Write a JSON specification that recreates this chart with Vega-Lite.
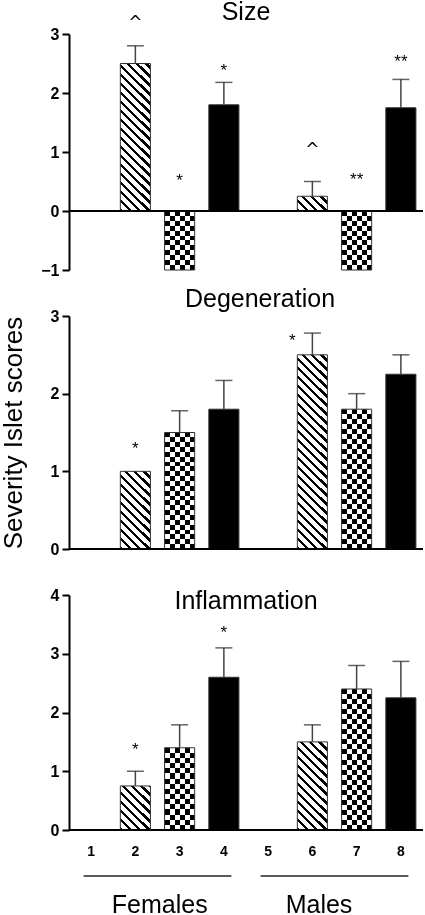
{
"$schema": "https://vega.github.io/schema/vega-lite/v6.json",
"background": "white",
"padding": {"left": 0, "top": 0, "right": 0, "bottom": 0},
"spacing": 46,
"bounds": "flush",
"datasets": {
"bars": [
{"panel":"Size","id":1,"value":0,"upper":null,"note":null,"notePos":null},
{"panel":"Size","id":2,"value":2.5,"upper":2.8,"note":"^","notePos":3.11},
{"panel":"Size","id":3,"value":-1,"upper":null,"note":"*","notePos":0.43},
{"panel":"Size","id":4,"value":1.8,"upper":2.18,"note":"*","notePos":2.28},
{"panel":"Size","id":5,"value":0,"upper":null,"note":null,"notePos":null},
{"panel":"Size","id":6,"value":0.25,"upper":0.5,"note":"^","notePos":0.95},
{"panel":"Size","id":7,"value":-1,"upper":null,"note":"**","notePos":0.44},
{"panel":"Size","id":8,"value":1.75,"upper":2.23,"note":"**","notePos":2.44},
{"panel":"Degeneration","id":1,"value":0,"upper":null,"note":null,"notePos":null},
{"panel":"Degeneration","id":2,"value":1.0,"upper":null,"note":"*","notePos":1.22},
{"panel":"Degeneration","id":3,"value":1.5,"upper":1.78,"note":null,"notePos":null},
{"panel":"Degeneration","id":4,"value":1.8,"upper":2.17,"note":null,"notePos":null},
{"panel":"Degeneration","id":5,"value":0,"upper":null,"note":null,"notePos":null},
{"panel":"Degeneration","id":6,"value":2.5,"upper":2.78,"note":"*","notePos":2.61},
{"panel":"Degeneration","id":7,"value":1.8,"upper":2.0,"note":null,"notePos":null},
{"panel":"Degeneration","id":8,"value":2.25,"upper":2.5,"note":null,"notePos":null},
{"panel":"Inflammation","id":1,"value":0,"upper":null,"note":null,"notePos":null},
{"panel":"Inflammation","id":2,"value":0.75,"upper":1.0,"note":"*","notePos":1.27},
{"panel":"Inflammation","id":3,"value":1.4,"upper":1.79,"note":null,"notePos":null},
{"panel":"Inflammation","id":4,"value":2.6,"upper":3.1,"note":"*","notePos":3.26},
{"panel":"Inflammation","id":5,"value":0,"upper":null,"note":null,"notePos":null},
{"panel":"Inflammation","id":6,"value":1.5,"upper":1.79,"note":null,"notePos":null},
{"panel":"Inflammation","id":7,"value":2.4,"upper":2.8,"note":null,"notePos":null},
{"panel":"Inflammation","id":8,"value":2.25,"upper":2.87,"note":null,"notePos":null}
],
"groups": [
{"sex":"Females","start":0.33,"end":3.67,"mid":2.05},
{"sex":"Males","start":4.33,"end":7.67,"mid":5.65}
]
},
"vconcat": [
{
"width": 354, "height": 236,
"title": {"text": "Size", "offset": -31.5, "baseline": "alphabetic", "frame": "group", "anchor": "middle"},
"layer": [
{
"data": {"name": "bars"},
"transform": [{"filter": "datum.panel == 'Size'"}],
"encoding": {
"x": {"field": "id", "type": "ordinal", "scale": {"paddingInner": 0.32, "paddingOuter": 0.16}, "axis": null},
"y": {"field": "value", "type": "quantitative", "title": null, "scale": {"domain": [-1, 3], "nice": false}, "axis": {"values": [-1, 0, 1, 2, 3], "format": "d", "domain": true}}
},
"layer": [
{"transform": [{"filter": "datum.id == 2"}], "mark": {"type": "bar", "fill": {"gradient": "linear", "x1": 0, "y1": 1, "x2": 0.2383, "y2": -0.1719, "stops": [
{"offset":0,"color":"#000"},{"offset":0.02,"color":"#000"},{"offset":0.02,"color":"#fff"},{"offset":0.05,"color":"#fff"},
{"offset":0.05,"color":"#000"},{"offset":0.07,"color":"#000"},{"offset":0.07,"color":"#fff"},{"offset":0.1,"color":"#fff"},
{"offset":0.1,"color":"#000"},{"offset":0.12,"color":"#000"},{"offset":0.12,"color":"#fff"},{"offset":0.15,"color":"#fff"},
{"offset":0.15,"color":"#000"},{"offset":0.17,"color":"#000"},{"offset":0.17,"color":"#fff"},{"offset":0.2,"color":"#fff"},
{"offset":0.2,"color":"#000"},{"offset":0.22,"color":"#000"},{"offset":0.22,"color":"#fff"},{"offset":0.25,"color":"#fff"},
{"offset":0.25,"color":"#000"},{"offset":0.27,"color":"#000"},{"offset":0.27,"color":"#fff"},{"offset":0.3,"color":"#fff"},
{"offset":0.3,"color":"#000"},{"offset":0.32,"color":"#000"},{"offset":0.32,"color":"#fff"},{"offset":0.35,"color":"#fff"},
{"offset":0.35,"color":"#000"},{"offset":0.37,"color":"#000"},{"offset":0.37,"color":"#fff"},{"offset":0.4,"color":"#fff"},
{"offset":0.4,"color":"#000"},{"offset":0.42,"color":"#000"},{"offset":0.42,"color":"#fff"},{"offset":0.45,"color":"#fff"},
{"offset":0.45,"color":"#000"},{"offset":0.47,"color":"#000"},{"offset":0.47,"color":"#fff"},{"offset":0.5,"color":"#fff"},
{"offset":0.5,"color":"#000"},{"offset":0.52,"color":"#000"},{"offset":0.52,"color":"#fff"},{"offset":0.55,"color":"#fff"},
{"offset":0.55,"color":"#000"},{"offset":0.57,"color":"#000"},{"offset":0.57,"color":"#fff"},{"offset":0.6,"color":"#fff"},
{"offset":0.6,"color":"#000"},{"offset":0.62,"color":"#000"},{"offset":0.62,"color":"#fff"},{"offset":0.65,"color":"#fff"},
{"offset":0.65,"color":"#000"},{"offset":0.67,"color":"#000"},{"offset":0.67,"color":"#fff"},{"offset":0.7,"color":"#fff"},
{"offset":0.7,"color":"#000"},{"offset":0.72,"color":"#000"},{"offset":0.72,"color":"#fff"},{"offset":0.75,"color":"#fff"},
{"offset":0.75,"color":"#000"},{"offset":0.77,"color":"#000"},{"offset":0.77,"color":"#fff"},{"offset":0.8,"color":"#fff"},
{"offset":0.8,"color":"#000"},{"offset":0.82,"color":"#000"},{"offset":0.82,"color":"#fff"},{"offset":0.85,"color":"#fff"},
{"offset":0.85,"color":"#000"},{"offset":0.87,"color":"#000"},{"offset":0.87,"color":"#fff"},{"offset":0.9,"color":"#fff"},
{"offset":0.9,"color":"#000"},{"offset":0.92,"color":"#000"},{"offset":0.92,"color":"#fff"},{"offset":0.95,"color":"#fff"},
{"offset":0.95,"color":"#000"},{"offset":0.97,"color":"#000"},{"offset":0.97,"color":"#fff"},{"offset":1,"color":"#fff"}
]}}},
{"transform": [{"filter": "datum.id == 6"}], "mark": {"type": "bar", "fill": {"gradient": "linear", "x1": 0, "y1": 1, "x2": 1.208, "y2": 0.4061, "stops": [
{"offset":0,"color":"#000"},{"offset":0.08,"color":"#000"},{"offset":0.08,"color":"#fff"},{"offset":0.2,"color":"#fff"},
{"offset":0.2,"color":"#000"},{"offset":0.28,"color":"#000"},{"offset":0.28,"color":"#fff"},{"offset":0.4,"color":"#fff"},
{"offset":0.4,"color":"#000"},{"offset":0.48,"color":"#000"},{"offset":0.48,"color":"#fff"},{"offset":0.6,"color":"#fff"},
{"offset":0.6,"color":"#000"},{"offset":0.68,"color":"#000"},{"offset":0.68,"color":"#fff"},{"offset":0.8,"color":"#fff"},
{"offset":0.8,"color":"#000"},{"offset":0.88,"color":"#000"},{"offset":0.88,"color":"#fff"},{"offset":1,"color":"#fff"}
]}}},
{"transform": [{"filter": "datum.id == 3 || datum.id == 7"}], "mark": {"type": "bar", "fill": {"gradient": "linear", "x1": 0, "y1": 0, "x2": 1, "y2": 0, "stops": [
{"offset":0,"color":"#000"},{"offset":0.1667,"color":"#000"},{"offset":0.1667,"color":"#fff"},{"offset":0.3333,"color":"#fff"},
{"offset":0.3333,"color":"#000"},{"offset":0.5,"color":"#000"},{"offset":0.5,"color":"#fff"},{"offset":0.6667,"color":"#fff"},
{"offset":0.6667,"color":"#000"},{"offset":0.8333,"color":"#000"},{"offset":0.8333,"color":"#fff"},{"offset":1,"color":"#fff"}
]}}},
{"transform": [{"filter": "datum.id == 3 || datum.id == 7"}], "mark": {"type": "bar", "blend": "difference", "fill": {"gradient": "linear", "x1": 0, "y1": 0, "x2": 0, "y2": 1, "stops": [
{"offset":0,"color":"#000"},{"offset":0.0833,"color":"#000"},{"offset":0.0833,"color":"#fff"},{"offset":0.1667,"color":"#fff"},
{"offset":0.1667,"color":"#000"},{"offset":0.25,"color":"#000"},{"offset":0.25,"color":"#fff"},{"offset":0.3333,"color":"#fff"},
{"offset":0.3333,"color":"#000"},{"offset":0.4167,"color":"#000"},{"offset":0.4167,"color":"#fff"},{"offset":0.5,"color":"#fff"},
{"offset":0.5,"color":"#000"},{"offset":0.5833,"color":"#000"},{"offset":0.5833,"color":"#fff"},{"offset":0.6667,"color":"#fff"},
{"offset":0.6667,"color":"#000"},{"offset":0.75,"color":"#000"},{"offset":0.75,"color":"#fff"},{"offset":0.8333,"color":"#fff"},
{"offset":0.8333,"color":"#000"},{"offset":0.9167,"color":"#000"},{"offset":0.9167,"color":"#fff"},{"offset":1,"color":"#fff"}
]}}},
{"transform": [{"filter": "datum.id == 4 || datum.id == 8"}], "mark": {"type": "bar", "fill": "#000"}},
{"mark": {"type": "bar", "filled": false, "stroke": "#333", "strokeWidth": 1}}
]
},
{
"data": {"name": "bars"},
"transform": [{"filter": "datum.panel == 'Size' && datum.id == 1"}],
"mark": {"type": "rule", "color": "#000", "strokeWidth": 2},
"encoding": {"y": {"datum": 0, "type": "quantitative", "title": null, "scale": {"domain": [-1, 3], "nice": false}}}
},
{
"data": {"name": "bars"},
"transform": [{"filter": "datum.panel == 'Size'"}],
"encoding": {"x": {"field": "id", "type": "ordinal", "scale": {"paddingInner": 0.32, "paddingOuter": 0.16}, "axis": null}},
"layer": [
{"transform": [{"filter": "datum.upper != null"}], "mark": {"type": "rule", "color": "#444", "strokeWidth": 1.5},
 "encoding": {"y": {"field": "value", "type": "quantitative", "title": null, "scale": {"domain": [-1, 3], "nice": false}}, "y2": {"field": "upper"}}},
{"transform": [{"filter": "datum.upper != null"}], "mark": {"type": "tick", "color": "#222", "size": 17, "thickness": 1.5},
 "encoding": {"y": {"field": "upper", "type": "quantitative", "title": null, "scale": {"domain": [-1, 3], "nice": false}}}},
{"transform": [{"filter": "datum.note != null && datum.note != '^'"}], "mark": {"type": "text", "fontSize": 17, "baseline": "alphabetic", "color": "#000"},
 "encoding": {"y": {"field": "notePos", "type": "quantitative", "title": null, "scale": {"domain": [-1, 3], "nice": false}}, "text": {"field": "note"}}},
{"transform": [{"filter": "datum.note == '^'"}], "mark": {"type": "text", "font": "DejaVu Sans", "fontSize": 17, "baseline": "alphabetic", "color": "#000"},
 "encoding": {"y": {"field": "notePos", "type": "quantitative", "title": null, "scale": {"domain": [-1, 3], "nice": false}}, "text": {"field": "note"}}}
]
}
]
},
{
"width": 354, "height": 233,
"title": {"text": "Degeneration", "offset": -23.5, "dx": 14, "baseline": "alphabetic", "frame": "group", "anchor": "middle"},
"layer": [
{
"data": {"name": "bars"},
"transform": [{"filter": "datum.panel == 'Degeneration'"}],
"encoding": {
"x": {"field": "id", "type": "ordinal", "scale": {"paddingInner": 0.32, "paddingOuter": 0.16}, "axis": null},
"y": {"field": "value", "type": "quantitative", "title": "Severity Islet scores", "scale": {"domain": [0, 3], "nice": false}, "axis": {"values": [0, 1, 2, 3], "format": "d", "domain": true}}
},
"layer": [
{"transform": [{"filter": "datum.id == 2"}], "mark": {"type": "bar", "fill": {"gradient": "linear", "x1": 0, "y1": 1, "x2": 0.4674, "y2": -0.21, "stops": [
{"offset":0,"color":"#000"},{"offset":0.0333,"color":"#000"},{"offset":0.0333,"color":"#fff"},{"offset":0.0833,"color":"#fff"},
{"offset":0.0833,"color":"#000"},{"offset":0.1167,"color":"#000"},{"offset":0.1167,"color":"#fff"},{"offset":0.1667,"color":"#fff"},
{"offset":0.1667,"color":"#000"},{"offset":0.2,"color":"#000"},{"offset":0.2,"color":"#fff"},{"offset":0.25,"color":"#fff"},
{"offset":0.25,"color":"#000"},{"offset":0.2833,"color":"#000"},{"offset":0.2833,"color":"#fff"},{"offset":0.3333,"color":"#fff"},
{"offset":0.3333,"color":"#000"},{"offset":0.3667,"color":"#000"},{"offset":0.3667,"color":"#fff"},{"offset":0.4167,"color":"#fff"},
{"offset":0.4167,"color":"#000"},{"offset":0.45,"color":"#000"},{"offset":0.45,"color":"#fff"},{"offset":0.5,"color":"#fff"},
{"offset":0.5,"color":"#000"},{"offset":0.5333,"color":"#000"},{"offset":0.5333,"color":"#fff"},{"offset":0.5833,"color":"#fff"},
{"offset":0.5833,"color":"#000"},{"offset":0.6167,"color":"#000"},{"offset":0.6167,"color":"#fff"},{"offset":0.6667,"color":"#fff"},
{"offset":0.6667,"color":"#000"},{"offset":0.7,"color":"#000"},{"offset":0.7,"color":"#fff"},{"offset":0.75,"color":"#fff"},
{"offset":0.75,"color":"#000"},{"offset":0.7833,"color":"#000"},{"offset":0.7833,"color":"#fff"},{"offset":0.8333,"color":"#fff"},
{"offset":0.8333,"color":"#000"},{"offset":0.8667,"color":"#000"},{"offset":0.8667,"color":"#fff"},{"offset":0.9167,"color":"#fff"},
{"offset":0.9167,"color":"#000"},{"offset":0.95,"color":"#000"},{"offset":0.95,"color":"#fff"},{"offset":1,"color":"#fff"}
]}}},
{"transform": [{"filter": "datum.id == 6"}], "mark": {"type": "bar", "fill": {"gradient": "linear", "x1": 0, "y1": 1, "x2": 0.1749, "y2": -0.1318, "stops": [
{"offset":0,"color":"#000"},{"offset":0.016,"color":"#000"},{"offset":0.016,"color":"#fff"},{"offset":0.04,"color":"#fff"},
{"offset":0.04,"color":"#000"},{"offset":0.056,"color":"#000"},{"offset":0.056,"color":"#fff"},{"offset":0.08,"color":"#fff"},
{"offset":0.08,"color":"#000"},{"offset":0.096,"color":"#000"},{"offset":0.096,"color":"#fff"},{"offset":0.12,"color":"#fff"},
{"offset":0.12,"color":"#000"},{"offset":0.136,"color":"#000"},{"offset":0.136,"color":"#fff"},{"offset":0.16,"color":"#fff"},
{"offset":0.16,"color":"#000"},{"offset":0.176,"color":"#000"},{"offset":0.176,"color":"#fff"},{"offset":0.2,"color":"#fff"},
{"offset":0.2,"color":"#000"},{"offset":0.216,"color":"#000"},{"offset":0.216,"color":"#fff"},{"offset":0.24,"color":"#fff"},
{"offset":0.24,"color":"#000"},{"offset":0.256,"color":"#000"},{"offset":0.256,"color":"#fff"},{"offset":0.28,"color":"#fff"},
{"offset":0.28,"color":"#000"},{"offset":0.296,"color":"#000"},{"offset":0.296,"color":"#fff"},{"offset":0.32,"color":"#fff"},
{"offset":0.32,"color":"#000"},{"offset":0.336,"color":"#000"},{"offset":0.336,"color":"#fff"},{"offset":0.36,"color":"#fff"},
{"offset":0.36,"color":"#000"},{"offset":0.376,"color":"#000"},{"offset":0.376,"color":"#fff"},{"offset":0.4,"color":"#fff"},
{"offset":0.4,"color":"#000"},{"offset":0.416,"color":"#000"},{"offset":0.416,"color":"#fff"},{"offset":0.44,"color":"#fff"},
{"offset":0.44,"color":"#000"},{"offset":0.456,"color":"#000"},{"offset":0.456,"color":"#fff"},{"offset":0.48,"color":"#fff"},
{"offset":0.48,"color":"#000"},{"offset":0.496,"color":"#000"},{"offset":0.496,"color":"#fff"},{"offset":0.52,"color":"#fff"},
{"offset":0.52,"color":"#000"},{"offset":0.536,"color":"#000"},{"offset":0.536,"color":"#fff"},{"offset":0.56,"color":"#fff"},
{"offset":0.56,"color":"#000"},{"offset":0.576,"color":"#000"},{"offset":0.576,"color":"#fff"},{"offset":0.6,"color":"#fff"},
{"offset":0.6,"color":"#000"},{"offset":0.616,"color":"#000"},{"offset":0.616,"color":"#fff"},{"offset":0.64,"color":"#fff"},
{"offset":0.64,"color":"#000"},{"offset":0.656,"color":"#000"},{"offset":0.656,"color":"#fff"},{"offset":0.68,"color":"#fff"},
{"offset":0.68,"color":"#000"},{"offset":0.696,"color":"#000"},{"offset":0.696,"color":"#fff"},{"offset":0.72,"color":"#fff"},
{"offset":0.72,"color":"#000"},{"offset":0.736,"color":"#000"},{"offset":0.736,"color":"#fff"},{"offset":0.76,"color":"#fff"},
{"offset":0.76,"color":"#000"},{"offset":0.776,"color":"#000"},{"offset":0.776,"color":"#fff"},{"offset":0.8,"color":"#fff"},
{"offset":0.8,"color":"#000"},{"offset":0.816,"color":"#000"},{"offset":0.816,"color":"#fff"},{"offset":0.84,"color":"#fff"},
{"offset":0.84,"color":"#000"},{"offset":0.856,"color":"#000"},{"offset":0.856,"color":"#fff"},{"offset":0.88,"color":"#fff"},
{"offset":0.88,"color":"#000"},{"offset":0.896,"color":"#000"},{"offset":0.896,"color":"#fff"},{"offset":0.92,"color":"#fff"},
{"offset":0.92,"color":"#000"},{"offset":0.936,"color":"#000"},{"offset":0.936,"color":"#fff"},{"offset":0.96,"color":"#fff"},
{"offset":0.96,"color":"#000"},{"offset":0.976,"color":"#000"},{"offset":0.976,"color":"#fff"},{"offset":1,"color":"#fff"}
]}}},
{"transform": [{"filter": "datum.id == 3 || datum.id == 7"}], "mark": {"type": "bar", "fill": {"gradient": "linear", "x1": 0, "y1": 0, "x2": 1, "y2": 0, "stops": [
{"offset":0,"color":"#000"},{"offset":0.1667,"color":"#000"},{"offset":0.1667,"color":"#fff"},{"offset":0.3333,"color":"#fff"},
{"offset":0.3333,"color":"#000"},{"offset":0.5,"color":"#000"},{"offset":0.5,"color":"#fff"},{"offset":0.6667,"color":"#fff"},
{"offset":0.6667,"color":"#000"},{"offset":0.8333,"color":"#000"},{"offset":0.8333,"color":"#fff"},{"offset":1,"color":"#fff"}
]}}},
{"transform": [{"filter": "datum.id == 3"}], "mark": {"type": "bar", "blend": "difference", "fill": {"gradient": "linear", "x1": 0, "y1": 0, "x2": 0, "y2": 1, "stops": [
{"offset":0,"color":"#000"},{"offset":0.0417,"color":"#000"},{"offset":0.0417,"color":"#fff"},{"offset":0.0833,"color":"#fff"},
{"offset":0.0833,"color":"#000"},{"offset":0.125,"color":"#000"},{"offset":0.125,"color":"#fff"},{"offset":0.1667,"color":"#fff"},
{"offset":0.1667,"color":"#000"},{"offset":0.2083,"color":"#000"},{"offset":0.2083,"color":"#fff"},{"offset":0.25,"color":"#fff"},
{"offset":0.25,"color":"#000"},{"offset":0.2917,"color":"#000"},{"offset":0.2917,"color":"#fff"},{"offset":0.3333,"color":"#fff"},
{"offset":0.3333,"color":"#000"},{"offset":0.375,"color":"#000"},{"offset":0.375,"color":"#fff"},{"offset":0.4167,"color":"#fff"},
{"offset":0.4167,"color":"#000"},{"offset":0.4583,"color":"#000"},{"offset":0.4583,"color":"#fff"},{"offset":0.5,"color":"#fff"},
{"offset":0.5,"color":"#000"},{"offset":0.5417,"color":"#000"},{"offset":0.5417,"color":"#fff"},{"offset":0.5833,"color":"#fff"},
{"offset":0.5833,"color":"#000"},{"offset":0.625,"color":"#000"},{"offset":0.625,"color":"#fff"},{"offset":0.6667,"color":"#fff"},
{"offset":0.6667,"color":"#000"},{"offset":0.7083,"color":"#000"},{"offset":0.7083,"color":"#fff"},{"offset":0.75,"color":"#fff"},
{"offset":0.75,"color":"#000"},{"offset":0.7917,"color":"#000"},{"offset":0.7917,"color":"#fff"},{"offset":0.8333,"color":"#fff"},
{"offset":0.8333,"color":"#000"},{"offset":0.875,"color":"#000"},{"offset":0.875,"color":"#fff"},{"offset":0.9167,"color":"#fff"},
{"offset":0.9167,"color":"#000"},{"offset":0.9583,"color":"#000"},{"offset":0.9583,"color":"#fff"},{"offset":1,"color":"#fff"}
]}}},
{"transform": [{"filter": "datum.id == 7"}], "mark": {"type": "bar", "blend": "difference", "fill": {"gradient": "linear", "x1": 0, "y1": 0, "x2": 0, "y2": 1, "stops": [
{"offset":0,"color":"#000"},{"offset":0.0357,"color":"#000"},{"offset":0.0357,"color":"#fff"},{"offset":0.0714,"color":"#fff"},
{"offset":0.0714,"color":"#000"},{"offset":0.1071,"color":"#000"},{"offset":0.1071,"color":"#fff"},{"offset":0.1429,"color":"#fff"},
{"offset":0.1429,"color":"#000"},{"offset":0.1786,"color":"#000"},{"offset":0.1786,"color":"#fff"},{"offset":0.2143,"color":"#fff"},
{"offset":0.2143,"color":"#000"},{"offset":0.25,"color":"#000"},{"offset":0.25,"color":"#fff"},{"offset":0.2857,"color":"#fff"},
{"offset":0.2857,"color":"#000"},{"offset":0.3214,"color":"#000"},{"offset":0.3214,"color":"#fff"},{"offset":0.3571,"color":"#fff"},
{"offset":0.3571,"color":"#000"},{"offset":0.3929,"color":"#000"},{"offset":0.3929,"color":"#fff"},{"offset":0.4286,"color":"#fff"},
{"offset":0.4286,"color":"#000"},{"offset":0.4643,"color":"#000"},{"offset":0.4643,"color":"#fff"},{"offset":0.5,"color":"#fff"},
{"offset":0.5,"color":"#000"},{"offset":0.5357,"color":"#000"},{"offset":0.5357,"color":"#fff"},{"offset":0.5714,"color":"#fff"},
{"offset":0.5714,"color":"#000"},{"offset":0.6071,"color":"#000"},{"offset":0.6071,"color":"#fff"},{"offset":0.6429,"color":"#fff"},
{"offset":0.6429,"color":"#000"},{"offset":0.6786,"color":"#000"},{"offset":0.6786,"color":"#fff"},{"offset":0.7143,"color":"#fff"},
{"offset":0.7143,"color":"#000"},{"offset":0.75,"color":"#000"},{"offset":0.75,"color":"#fff"},{"offset":0.7857,"color":"#fff"},
{"offset":0.7857,"color":"#000"},{"offset":0.8214,"color":"#000"},{"offset":0.8214,"color":"#fff"},{"offset":0.8571,"color":"#fff"},
{"offset":0.8571,"color":"#000"},{"offset":0.8929,"color":"#000"},{"offset":0.8929,"color":"#fff"},{"offset":0.9286,"color":"#fff"},
{"offset":0.9286,"color":"#000"},{"offset":0.9643,"color":"#000"},{"offset":0.9643,"color":"#fff"},{"offset":1,"color":"#fff"}
]}}},
{"transform": [{"filter": "datum.id == 4 || datum.id == 8"}], "mark": {"type": "bar", "fill": "#000"}},
{"mark": {"type": "bar", "filled": false, "stroke": "#333", "strokeWidth": 1}}
]
},
{
"data": {"name": "bars"},
"transform": [{"filter": "datum.panel == 'Degeneration' && datum.id == 1"}],
"mark": {"type": "rule", "color": "#000", "strokeWidth": 2},
"encoding": {"y": {"datum": 0, "type": "quantitative", "title": "Severity Islet scores", "scale": {"domain": [0, 3], "nice": false}}}
},
{
"data": {"name": "bars"},
"transform": [{"filter": "datum.panel == 'Degeneration'"}],
"encoding": {"x": {"field": "id", "type": "ordinal", "scale": {"paddingInner": 0.32, "paddingOuter": 0.16}, "axis": null}},
"layer": [
{"transform": [{"filter": "datum.upper != null"}], "mark": {"type": "rule", "color": "#444", "strokeWidth": 1.5},
 "encoding": {"y": {"field": "value", "type": "quantitative", "title": "Severity Islet scores", "scale": {"domain": [0, 3], "nice": false}}, "y2": {"field": "upper"}}},
{"transform": [{"filter": "datum.upper != null"}], "mark": {"type": "tick", "color": "#222", "size": 17, "thickness": 1.5},
 "encoding": {"y": {"field": "upper", "type": "quantitative", "title": "Severity Islet scores", "scale": {"domain": [0, 3], "nice": false}}}},
{"transform": [{"filter": "datum.note != null && datum.id != 6"}], "mark": {"type": "text", "fontSize": 17, "baseline": "alphabetic", "color": "#000"},
 "encoding": {"y": {"field": "notePos", "type": "quantitative", "title": "Severity Islet scores", "scale": {"domain": [0, 3], "nice": false}}, "text": {"field": "note"}}},
{"transform": [{"filter": "datum.note != null && datum.id == 6"}], "mark": {"type": "text", "fontSize": 17, "dx": -20, "baseline": "alphabetic", "color": "#000"},
 "encoding": {"y": {"field": "notePos", "type": "quantitative", "title": "Severity Islet scores", "scale": {"domain": [0, 3], "nice": false}}, "text": {"field": "note"}}}
]
}
]
},
{
"width": 354, "height": 235,
"title": {"text": "Inflammation", "offset": -47, "baseline": "alphabetic", "frame": "group", "anchor": "middle"},
"layer": [
{
"data": {"name": "bars"},
"transform": [{"filter": "datum.panel == 'Inflammation'"}],
"encoding": {
"x": {"field": "id", "type": "ordinal", "title": null, "scale": {"paddingInner": 0.32, "paddingOuter": 0.16}},
"y": {"field": "value", "type": "quantitative", "title": null, "scale": {"domain": [0, 4], "nice": false}, "axis": {"values": [0, 1, 2, 3, 4], "format": "d", "domain": true}}
},
"layer": [
{"transform": [{"filter": "datum.id == 2"}], "mark": {"type": "bar", "fill": {"gradient": "linear", "x1": 0, "y1": 1, "x2": 0.8552, "y2": -0.2561, "stops": [
{"offset":0,"color":"#000"},{"offset":0.0444,"color":"#000"},{"offset":0.0444,"color":"#fff"},{"offset":0.1111,"color":"#fff"},
{"offset":0.1111,"color":"#000"},{"offset":0.1556,"color":"#000"},{"offset":0.1556,"color":"#fff"},{"offset":0.2222,"color":"#fff"},
{"offset":0.2222,"color":"#000"},{"offset":0.2667,"color":"#000"},{"offset":0.2667,"color":"#fff"},{"offset":0.3333,"color":"#fff"},
{"offset":0.3333,"color":"#000"},{"offset":0.3778,"color":"#000"},{"offset":0.3778,"color":"#fff"},{"offset":0.4444,"color":"#fff"},
{"offset":0.4444,"color":"#000"},{"offset":0.4889,"color":"#000"},{"offset":0.4889,"color":"#fff"},{"offset":0.5556,"color":"#fff"},
{"offset":0.5556,"color":"#000"},{"offset":0.6,"color":"#000"},{"offset":0.6,"color":"#fff"},{"offset":0.6667,"color":"#fff"},
{"offset":0.6667,"color":"#000"},{"offset":0.7111,"color":"#000"},{"offset":0.7111,"color":"#fff"},{"offset":0.7778,"color":"#fff"},
{"offset":0.7778,"color":"#000"},{"offset":0.8222,"color":"#000"},{"offset":0.8222,"color":"#fff"},{"offset":0.8889,"color":"#fff"},
{"offset":0.8889,"color":"#000"},{"offset":0.9333,"color":"#000"},{"offset":0.9333,"color":"#fff"},{"offset":1,"color":"#fff"}
]}}},
{"transform": [{"filter": "datum.id == 6"}], "mark": {"type": "bar", "fill": {"gradient": "linear", "x1": 0, "y1": 1, "x2": 0.4362, "y2": -0.2813, "stops": [
{"offset":0,"color":"#000"},{"offset":0.0286,"color":"#000"},{"offset":0.0286,"color":"#fff"},{"offset":0.0714,"color":"#fff"},
{"offset":0.0714,"color":"#000"},{"offset":0.1,"color":"#000"},{"offset":0.1,"color":"#fff"},{"offset":0.1429,"color":"#fff"},
{"offset":0.1429,"color":"#000"},{"offset":0.1714,"color":"#000"},{"offset":0.1714,"color":"#fff"},{"offset":0.2143,"color":"#fff"},
{"offset":0.2143,"color":"#000"},{"offset":0.2429,"color":"#000"},{"offset":0.2429,"color":"#fff"},{"offset":0.2857,"color":"#fff"},
{"offset":0.2857,"color":"#000"},{"offset":0.3143,"color":"#000"},{"offset":0.3143,"color":"#fff"},{"offset":0.3571,"color":"#fff"},
{"offset":0.3571,"color":"#000"},{"offset":0.3857,"color":"#000"},{"offset":0.3857,"color":"#fff"},{"offset":0.4286,"color":"#fff"},
{"offset":0.4286,"color":"#000"},{"offset":0.4571,"color":"#000"},{"offset":0.4571,"color":"#fff"},{"offset":0.5,"color":"#fff"},
{"offset":0.5,"color":"#000"},{"offset":0.5286,"color":"#000"},{"offset":0.5286,"color":"#fff"},{"offset":0.5714,"color":"#fff"},
{"offset":0.5714,"color":"#000"},{"offset":0.6,"color":"#000"},{"offset":0.6,"color":"#fff"},{"offset":0.6429,"color":"#fff"},
{"offset":0.6429,"color":"#000"},{"offset":0.6714,"color":"#000"},{"offset":0.6714,"color":"#fff"},{"offset":0.7143,"color":"#fff"},
{"offset":0.7143,"color":"#000"},{"offset":0.7429,"color":"#000"},{"offset":0.7429,"color":"#fff"},{"offset":0.7857,"color":"#fff"},
{"offset":0.7857,"color":"#000"},{"offset":0.8143,"color":"#000"},{"offset":0.8143,"color":"#fff"},{"offset":0.8571,"color":"#fff"},
{"offset":0.8571,"color":"#000"},{"offset":0.8857,"color":"#000"},{"offset":0.8857,"color":"#fff"},{"offset":0.9286,"color":"#fff"},
{"offset":0.9286,"color":"#000"},{"offset":0.9571,"color":"#000"},{"offset":0.9571,"color":"#fff"},{"offset":1,"color":"#fff"}
]}}},
{"transform": [{"filter": "datum.id == 3 || datum.id == 7"}], "mark": {"type": "bar", "fill": {"gradient": "linear", "x1": 0, "y1": 0, "x2": 1, "y2": 0, "stops": [
{"offset":0,"color":"#000"},{"offset":0.1667,"color":"#000"},{"offset":0.1667,"color":"#fff"},{"offset":0.3333,"color":"#fff"},
{"offset":0.3333,"color":"#000"},{"offset":0.5,"color":"#000"},{"offset":0.5,"color":"#fff"},{"offset":0.6667,"color":"#fff"},
{"offset":0.6667,"color":"#000"},{"offset":0.8333,"color":"#000"},{"offset":0.8333,"color":"#fff"},{"offset":1,"color":"#fff"}
]}}},
{"transform": [{"filter": "datum.id == 3"}], "mark": {"type": "bar", "blend": "difference", "fill": {"gradient": "linear", "x1": 0, "y1": 0, "x2": 0, "y2": 1, "stops": [
{"offset":0,"color":"#000"},{"offset":0.0625,"color":"#000"},{"offset":0.0625,"color":"#fff"},{"offset":0.125,"color":"#fff"},
{"offset":0.125,"color":"#000"},{"offset":0.1875,"color":"#000"},{"offset":0.1875,"color":"#fff"},{"offset":0.25,"color":"#fff"},
{"offset":0.25,"color":"#000"},{"offset":0.3125,"color":"#000"},{"offset":0.3125,"color":"#fff"},{"offset":0.375,"color":"#fff"},
{"offset":0.375,"color":"#000"},{"offset":0.4375,"color":"#000"},{"offset":0.4375,"color":"#fff"},{"offset":0.5,"color":"#fff"},
{"offset":0.5,"color":"#000"},{"offset":0.5625,"color":"#000"},{"offset":0.5625,"color":"#fff"},{"offset":0.625,"color":"#fff"},
{"offset":0.625,"color":"#000"},{"offset":0.6875,"color":"#000"},{"offset":0.6875,"color":"#fff"},{"offset":0.75,"color":"#fff"},
{"offset":0.75,"color":"#000"},{"offset":0.8125,"color":"#000"},{"offset":0.8125,"color":"#fff"},{"offset":0.875,"color":"#fff"},
{"offset":0.875,"color":"#000"},{"offset":0.9375,"color":"#000"},{"offset":0.9375,"color":"#fff"},{"offset":1,"color":"#fff"}
]}}},
{"transform": [{"filter": "datum.id == 7"}], "mark": {"type": "bar", "blend": "difference", "fill": {"gradient": "linear", "x1": 0, "y1": 0, "x2": 0, "y2": 1, "stops": [
{"offset":0,"color":"#000"},{"offset":0.0357,"color":"#000"},{"offset":0.0357,"color":"#fff"},{"offset":0.0714,"color":"#fff"},
{"offset":0.0714,"color":"#000"},{"offset":0.1071,"color":"#000"},{"offset":0.1071,"color":"#fff"},{"offset":0.1429,"color":"#fff"},
{"offset":0.1429,"color":"#000"},{"offset":0.1786,"color":"#000"},{"offset":0.1786,"color":"#fff"},{"offset":0.2143,"color":"#fff"},
{"offset":0.2143,"color":"#000"},{"offset":0.25,"color":"#000"},{"offset":0.25,"color":"#fff"},{"offset":0.2857,"color":"#fff"},
{"offset":0.2857,"color":"#000"},{"offset":0.3214,"color":"#000"},{"offset":0.3214,"color":"#fff"},{"offset":0.3571,"color":"#fff"},
{"offset":0.3571,"color":"#000"},{"offset":0.3929,"color":"#000"},{"offset":0.3929,"color":"#fff"},{"offset":0.4286,"color":"#fff"},
{"offset":0.4286,"color":"#000"},{"offset":0.4643,"color":"#000"},{"offset":0.4643,"color":"#fff"},{"offset":0.5,"color":"#fff"},
{"offset":0.5,"color":"#000"},{"offset":0.5357,"color":"#000"},{"offset":0.5357,"color":"#fff"},{"offset":0.5714,"color":"#fff"},
{"offset":0.5714,"color":"#000"},{"offset":0.6071,"color":"#000"},{"offset":0.6071,"color":"#fff"},{"offset":0.6429,"color":"#fff"},
{"offset":0.6429,"color":"#000"},{"offset":0.6786,"color":"#000"},{"offset":0.6786,"color":"#fff"},{"offset":0.7143,"color":"#fff"},
{"offset":0.7143,"color":"#000"},{"offset":0.75,"color":"#000"},{"offset":0.75,"color":"#fff"},{"offset":0.7857,"color":"#fff"},
{"offset":0.7857,"color":"#000"},{"offset":0.8214,"color":"#000"},{"offset":0.8214,"color":"#fff"},{"offset":0.8571,"color":"#fff"},
{"offset":0.8571,"color":"#000"},{"offset":0.8929,"color":"#000"},{"offset":0.8929,"color":"#fff"},{"offset":0.9286,"color":"#fff"},
{"offset":0.9286,"color":"#000"},{"offset":0.9643,"color":"#000"},{"offset":0.9643,"color":"#fff"},{"offset":1,"color":"#fff"}
]}}},
{"transform": [{"filter": "datum.id == 4 || datum.id == 8"}], "mark": {"type": "bar", "fill": "#000"}},
{"mark": {"type": "bar", "filled": false, "stroke": "#333", "strokeWidth": 1}}
]
},
{
"data": {"name": "bars"},
"transform": [{"filter": "datum.panel == 'Inflammation' && datum.id == 1"}],
"mark": {"type": "rule", "color": "#000", "strokeWidth": 2},
"encoding": {"y": {"datum": 0, "type": "quantitative", "title": null, "scale": {"domain": [0, 4], "nice": false}}}
},
{
"data": {"name": "bars"},
"transform": [{"filter": "datum.panel == 'Inflammation'"}],
"encoding": {"x": {"field": "id", "type": "ordinal", "title": null, "scale": {"paddingInner": 0.32, "paddingOuter": 0.16}}},
"layer": [
{"transform": [{"filter": "datum.upper != null"}], "mark": {"type": "rule", "color": "#444", "strokeWidth": 1.5},
 "encoding": {"y": {"field": "value", "type": "quantitative", "title": null, "scale": {"domain": [0, 4], "nice": false}}, "y2": {"field": "upper"}}},
{"transform": [{"filter": "datum.upper != null"}], "mark": {"type": "tick", "color": "#222", "size": 17, "thickness": 1.5},
 "encoding": {"y": {"field": "upper", "type": "quantitative", "title": null, "scale": {"domain": [0, 4], "nice": false}}}},
{"transform": [{"filter": "datum.note != null"}], "mark": {"type": "text", "fontSize": 17, "baseline": "alphabetic", "color": "#000"},
 "encoding": {"y": {"field": "notePos", "type": "quantitative", "title": null, "scale": {"domain": [0, 4], "nice": false}}, "text": {"field": "note"}}}
]
}
]
},
{
"width": 354, "height": 37,
"data": {"name": "groups"},
"layer": [
{"mark": {"type": "rule", "color": "#222", "strokeWidth": 1.3},
 "encoding": {"x": {"field": "start", "type": "quantitative", "scale": {"domain": [0, 8], "nice": false, "zero": false}, "axis": null}, "x2": {"field": "end"},
  "y": {"datum": 1, "type": "quantitative", "scale": {"domain": [0, 1]}, "axis": null}}},
{"mark": {"type": "text", "fontSize": 25, "baseline": "alphabetic", "color": "#000"},
 "encoding": {"x": {"field": "mid", "type": "quantitative", "scale": {"domain": [0, 8], "nice": false, "zero": false}, "axis": null},
  "y": {"datum": 0, "type": "quantitative", "scale": {"domain": [0, 1]}, "axis": null}, "text": {"field": "sex"}}}
]
}
],
"config": {
"font": "Liberation Sans",
"view": {"stroke": null},
"axis": {"grid": false, "domainColor": "#000", "domainWidth": 2, "tickColor": "#000", "tickWidth": 2, "tickSize": 7, "labelColor": "#000", "labelFont": "Liberation Sans", "labelFontSize": 16, "labelFontWeight": "bold", "labelPadding": 3, "labelFlush": false, "labelOverlap": false, "titleFont": "Liberation Sans", "titleFontSize": 26, "titleFontWeight": "normal", "titleColor": "#000", "titlePadding": 24},
"axisY": {"domain": true},
"axisX": {"domain": false, "ticks": false, "labelFontSize": 14, "labelPadding": 14, "labelAngle": 0},
"title": {"font": "Liberation Sans", "fontSize": 25, "fontWeight": "normal", "color": "#000"}
}
}
